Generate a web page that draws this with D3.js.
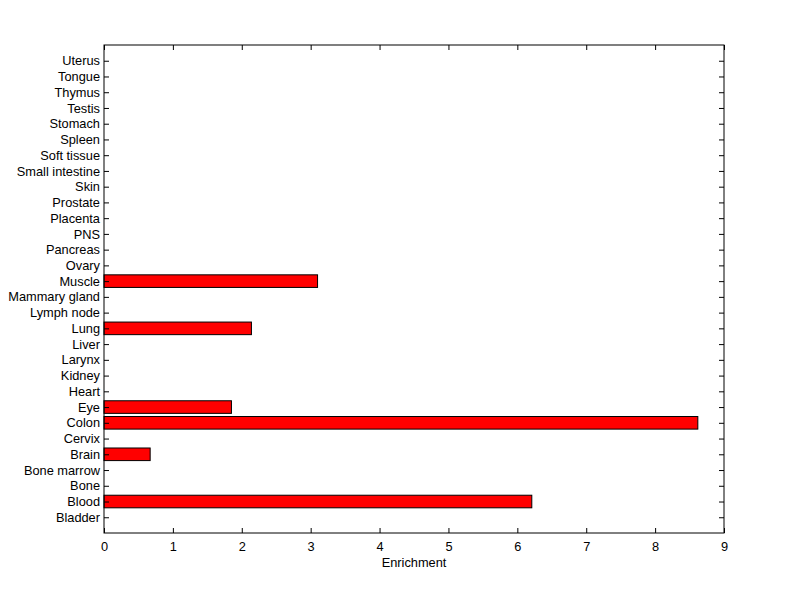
<!DOCTYPE html>
<html>
<head>
<meta charset="utf-8">
<script src="https://cdn.jsdelivr.net/npm/d3@7"></script>
<style>
	body { margin: 0; background: #fff; }
	text { font-family: "Liberation Sans", Arial, sans-serif; font-size: 12.8px; fill: #000; }
</style>
</head>
<body>
<svg id="viz"></svg>
<script>
// categories, bottom to top
const tissues = ["Bladder", "Blood", "Bone", "Bone marrow", "Brain", "Cervix", "Colon", "Eye",
	"Heart", "Kidney", "Larynx", "Liver", "Lung", "Lymph node", "Mammary gland", "Muscle",
	"Ovary", "Pancreas", "PNS", "Placenta", "Prostate", "Skin", "Small intestine",
	"Soft tissue", "Spleen", "Stomach", "Testis", "Thymus", "Tongue", "Uterus"];
const enrichment = [0, 6.21, 0, 0, 0.67, 0, 8.62, 1.85,
	0, 0, 0, 0, 2.14, 0, 0, 3.10,
	0, 0, 0, 0, 0, 0, 0,
	0, 0, 0, 0, 0, 0, 0];
const xTicks = [0, 1, 2, 3, 4, 5, 6, 7, 8, 9];

const width = 800;
const height = 599;
const margin = { top: 45, right: 76, bottom: 66, left: 104 };
const plotWidth = width - margin.left - margin.right;
const plotHeight = height - margin.top - margin.bottom;

const svg = d3.select("svg#viz")
	.attr("width", width)
	.attr("height", height);

const plot = svg.append("g")
	.attr("transform", translate(margin.left, margin.top));

const x = d3.scaleLinear().domain([0, 9]).range([0, plotWidth]);
// matlab style: categories at 1..n, limits 0..n+1
const y = d3.scaleLinear().domain([0, tissues.length + 1]).range([plotHeight, 0]);
const barH = 0.8 * (y(0) - y(1));

// bars
plot.append("g").selectAll("rect")
	.data(enrichment.map((v, i) => ({ v: v, i: i + 1 })).filter(d => d.v > 0))
	.join("rect")
	.attr("x", x(0))
	.attr("y", d => y(d.i) - barH / 2)
	.attr("width", d => x(d.v) - x(0))
	.attr("height", barH)
	.attr("fill", "#ff0000")
	.attr("stroke", "#000")
	.attr("stroke-width", 1);

// axes, ticks pointing inward
const tickLen = 5;
const yIdx = d3.range(1, tissues.length + 1);

const xAxis = d3.axisBottom(x).tickValues(xTicks).tickSize(-tickLen).tickPadding(9).tickFormat(d3.format("d"));
plot.append("g").attr("transform", translate(0, plotHeight)).call(xAxis);

const xTop = d3.axisTop(x).tickValues(xTicks).tickSize(-tickLen).tickFormat("");
plot.append("g").call(xTop);

const yAxis = d3.axisLeft(y).tickValues(yIdx).tickSize(-tickLen).tickPadding(4).tickFormat(d => tissues[d - 1]);
plot.append("g").call(yAxis);

const yRight = d3.axisRight(y).tickValues(yIdx).tickSize(-tickLen).tickFormat("");
plot.append("g").attr("transform", translate(plotWidth, 0)).call(yRight);

plot.selectAll(".domain").remove();
plot.selectAll(".tick line").attr("stroke", "#000");
plot.selectAll(".tick text").attr("font-size", null);
plot.selectAll("g").attr("font-size", null).attr("font-family", null);

// box
plot.append("rect")
	.attr("width", plotWidth)
	.attr("height", plotHeight)
	.attr("fill", "none")
	.attr("stroke", "#000");

// x label
svg.append("text")
	.attr("x", margin.left + plotWidth / 2)
	.attr("y", 567)
	.attr("text-anchor", "middle")
	.text("Enrichment");

function translate(x, y) {
	return "translate(" + x + "," + y + ")";
}
</script>
</body>
</html>
